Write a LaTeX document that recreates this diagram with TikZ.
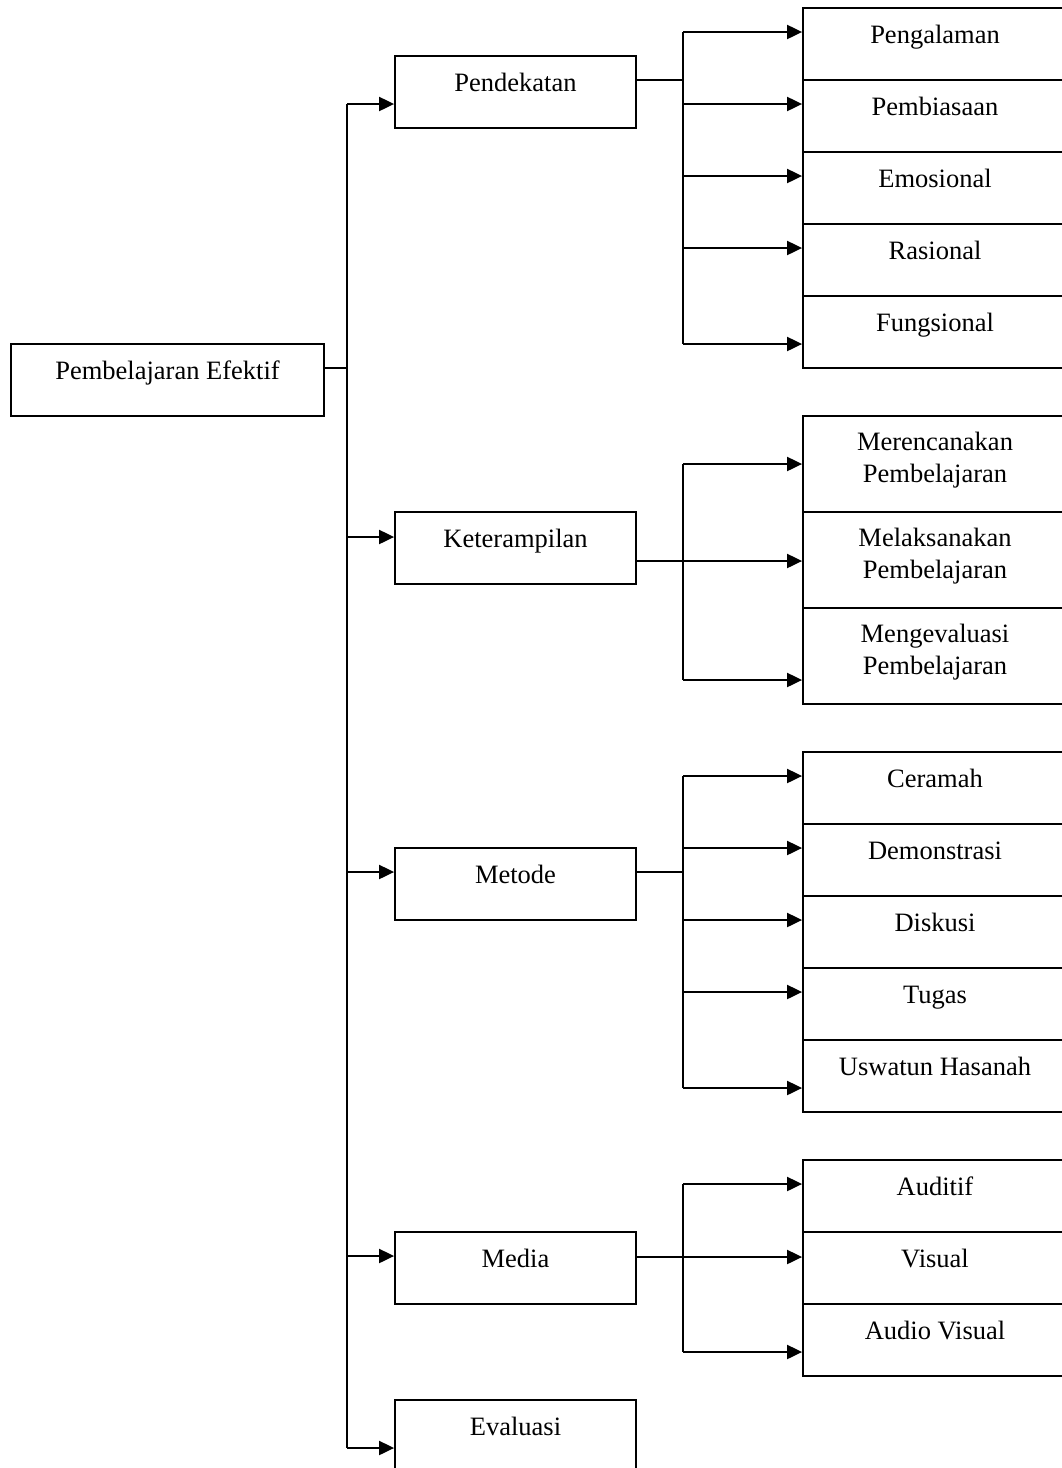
\documentclass[tikz,border=0pt]{standalone}
\usepackage{fontspec}
\setmainfont{Liberation Serif}
\usetikzlibrary{arrows.meta,calc}
\newcommand\mkboxsh[7]{%
  \node[box, minimum width={#4pt-#2pt}, minimum height={#5pt-#3pt}] (#1) at ({(#2+#4)/2},{(#3+#5)/2}) {};
  \node[lbl, anchor=base] (#1t) at ([yshift=-#7pt]#1.north) {#6};}
\newcommand\mkbox[6]{\mkboxsh{#1}{#2}{#3}{#4}{#5}{#6}{36}}
\newcommand\mkboxtwo[6]{\mkboxsh{#1}{#2}{#3}{#4}{#5}{#6}{67}}
\begin{document}
\begin{tikzpicture}[x=1pt,y=-1pt,
  box/.style={draw, line width=1.8pt, inner sep=0pt},
  lbl/.style={font=\fontsize{26.5}{32}\selectfont, inner sep=0pt, align=center},
  arr/.style={line width=2pt, -{Triangle[length=15pt,width=14pt]}},
  thinline/.style={line width=1.4pt},
  trunk/.style={line width=2pt}]
\useasboundingbox (0,0) rectangle (1062,1468);
\clip (0,0) rectangle (1062,1468);
% root and second level
\mkbox{rb}{11}{344}{324}{416}{Pembelajaran Efektif}
\mkbox{pend}{395}{56}{636}{128}{Pendekatan}
\mkbox{ket}{395}{512}{636}{584}{Keterampilan}
\mkbox{met}{395}{848}{636}{920}{Metode}
\mkbox{med}{395}{1232}{636}{1304}{Media}
\mkbox{eva}{395}{1400}{636}{1472}{Evaluasi}
% third level
\mkbox{r1}{803}{8}{1067}{80}{Pengalaman}
\mkbox{r2}{803}{80}{1067}{152}{Pembiasaan}
\mkbox{r3}{803}{152}{1067}{224}{Emosional}
\mkbox{r4}{803}{224}{1067}{296}{Rasional}
\mkbox{r5}{803}{296}{1067}{368}{Fungsional}
\mkboxtwo{k1}{803}{416}{1067}{512}{Merencanakan\\Pembelajaran}
\mkboxtwo{k2}{803}{512}{1067}{608}{Melaksanakan\\Pembelajaran}
\mkboxtwo{k3}{803}{608}{1067}{704}{Mengevaluasi\\Pembelajaran}
\mkbox{m1}{803}{752}{1067}{824}{Ceramah}
\mkbox{m2}{803}{824}{1067}{896}{Demonstrasi}
\mkbox{m3}{803}{896}{1067}{968}{Diskusi}
\mkbox{m4}{803}{968}{1067}{1040}{Tugas}
\mkbox{m5}{803}{1040}{1067}{1112}{Uswatun Hasanah}
\mkbox{d1}{803}{1160}{1067}{1232}{Auditif}
\mkbox{d2}{803}{1232}{1067}{1304}{Visual}
\mkbox{d3}{803}{1304}{1067}{1376}{Audio Visual}
% trunk
\coordinate (tj) at (347,368);
\coordinate (tA) at (347,104);
\coordinate (tK) at (347,537);
\coordinate (tM) at (347,872);
\coordinate (tD) at (347,1256);
\coordinate (tE) at (347,1448);
\draw[thinline] (tj -| rb.east) -- (tj);
\draw[trunk] (tA) -- (tE);
\draw[arr] (tA) -- (tA -| pend.west);
\draw[arr] (tK) -- (tK -| ket.west);
\draw[arr] (tM) -- (tM -| met.west);
\draw[arr] (tD) -- (tD -| med.west);
\draw[arr] (tE) -- (tE -| eva.west);
% Pendekatan group
\coordinate (pj) at (683,80);
\coordinate (p1) at (683,32);
\coordinate (p2) at (683,104);
\coordinate (p3) at (683,176);
\coordinate (p4) at (683,248);
\coordinate (p5) at (683,344);
\draw[thinline] (pj -| pend.east) -- (pj);
\draw[trunk] (p1) -- (p5);
\draw[arr] (p1) -- (p1 -| r1.west);
\draw[arr] (p2) -- (p2 -| r2.west);
\draw[arr] (p3) -- (p3 -| r3.west);
\draw[arr] (p4) -- (p4 -| r4.west);
\draw[arr] (p5) -- (p5 -| r5.west);
% Keterampilan group
\coordinate (q1) at (683,464);
\coordinate (q2) at (683,561);
\coordinate (q3) at (683,680);
\draw[thinline] (q2 -| ket.east) -- (q2);
\draw[trunk] (q1) -- (q3);
\draw[arr] (q1) -- (q1 -| k1.west);
\draw[arr] (q2) -- (q2 -| k2.west);
\draw[arr] (q3) -- (q3 -| k3.west);
% Metode group
\coordinate (mj) at (683,872);
\coordinate (n1) at (683,776);
\coordinate (n2) at (683,848);
\coordinate (n3) at (683,920);
\coordinate (n4) at (683,992);
\coordinate (n5) at (683,1088);
\draw[thinline] (mj -| met.east) -- (mj);
\draw[trunk] (n1) -- (n5);
\draw[arr] (n1) -- (n1 -| m1.west);
\draw[arr] (n2) -- (n2 -| m2.west);
\draw[arr] (n3) -- (n3 -| m3.west);
\draw[arr] (n4) -- (n4 -| m4.west);
\draw[arr] (n5) -- (n5 -| m5.west);
% Media group
\coordinate (s1) at (683,1184);
\coordinate (s2) at (683,1257);
\coordinate (s3) at (683,1352);
\draw[thinline] (s2 -| med.east) -- (s2);
\draw[trunk] (s1) -- (s3);
\draw[arr] (s1) -- (s1 -| d1.west);
\draw[arr] (s2) -- (s2 -| d2.west);
\draw[arr] (s3) -- (s3 -| d3.west);
\end{tikzpicture}
\end{document}
